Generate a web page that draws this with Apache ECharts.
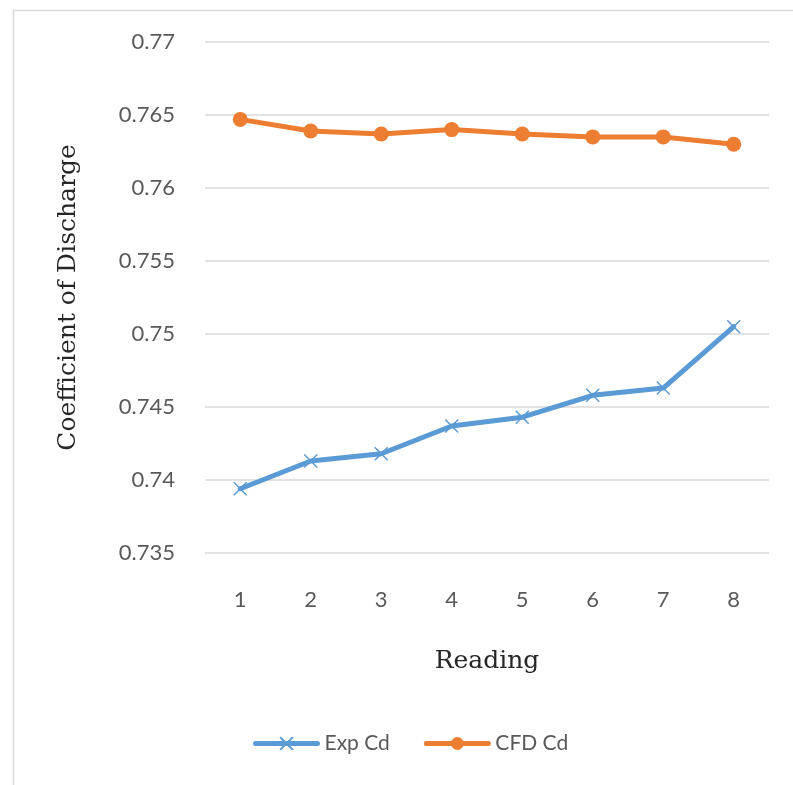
<!DOCTYPE html>
<html>
<head>
<meta charset="utf-8">
<script src="https://cdn.jsdelivr.net/npm/echarts@6/dist/echarts.min.js"></script>
<style>html,body{margin:0;padding:0;background:#fff;}#c{width:793px;height:785px;}</style>
</head>
<body>
<div id="c"></div>
<script>
const categories = ['1','2','3','4','5','6','7','8'];
const expCd = [0.7394, 0.7413, 0.7418, 0.7437, 0.7443, 0.7458, 0.7463, 0.7505];
const cfdCd = [0.7647, 0.7639, 0.7637, 0.7640, 0.7637, 0.7635, 0.7635, 0.7630];
const seriesNames = ['Exp Cd', 'CFD Cd'];

const chart = echarts.init(document.getElementById('c'));
const labelFont = 'Lato, "Open Sans", sans-serif';
const serifFont = '"DejaVu Serif", "Liberation Serif", serif';
const crossPath = 'path://M0,0L10,10M10,0L0,10';
chart.setOption({
  animation: false,
  backgroundColor: '#fff',
  graphic: [{
    type: 'rect', left: 11, top: 8, shape: { width: 800, height: 800 },
    style: { fill: 'none', stroke: '#d9d9d9', lineWidth: 1.5 }, silent: true
  }],
  grid: { left: 205, right: 24, top: 42, bottom: 232 },
  legend: {
    bottom: 26, left: 248, itemGap: 34, itemWidth: 62, itemHeight: 16,
    textStyle: { fontFamily: labelFont, fontSize: 21, color: '#595959', padding: [0, 0, 0, 2] },
    lineStyle: { width: 5 },
    data: [seriesNames[0], seriesNames[1]]
  },
  xAxis: {
    type: 'category', data: categories, boundaryGap: true,
    name: 'Reading', nameLocation: 'middle', nameGap: 96,
    nameTextStyle: { fontFamily: serifFont, fontSize: 25, color: '#262626' },
    axisLine: { show: false }, axisTick: { show: false },
    axisLabel: { fontFamily: labelFont, fontSize: 22, color: '#595959', margin: 36 }
  },
  yAxis: {
    type: 'value', min: 0.735, max: 0.77, interval: 0.005,
    name: 'Coefficient of Discharge', nameLocation: 'middle', nameGap: 124,
    nameTextStyle: { fontFamily: serifFont, fontSize: 25, color: '#262626' },
    axisLine: { show: false }, axisTick: { show: false },
    splitLine: { lineStyle: { color: '#d9d9d9', width: 1.5 } },
    axisLabel: { fontFamily: labelFont, fontSize: 22, color: '#595959', margin: 30,
      formatter: v => String(parseFloat(v.toFixed(3))) }
  },
  series: [
    {
      name: seriesNames[0], type: 'line', data: expCd,
      symbol: crossPath, symbolSize: 13, showSymbol: true,
      lineStyle: { color: '#5B9BD5', width: 5, cap: 'round', join: 'round' },
      itemStyle: { color: 'none', borderColor: '#5B9BD5', borderWidth: 1.5 },
      z: 3
    },
    {
      name: seriesNames[1], type: 'line', data: cfdCd,
      symbol: 'circle', symbolSize: 15,
      lineStyle: { color: '#ED7D31', width: 5, cap: 'round', join: 'round' },
      itemStyle: { color: '#ED7D31' },
      z: 3
    }
  ]
});
</script>
</body>
</html>
